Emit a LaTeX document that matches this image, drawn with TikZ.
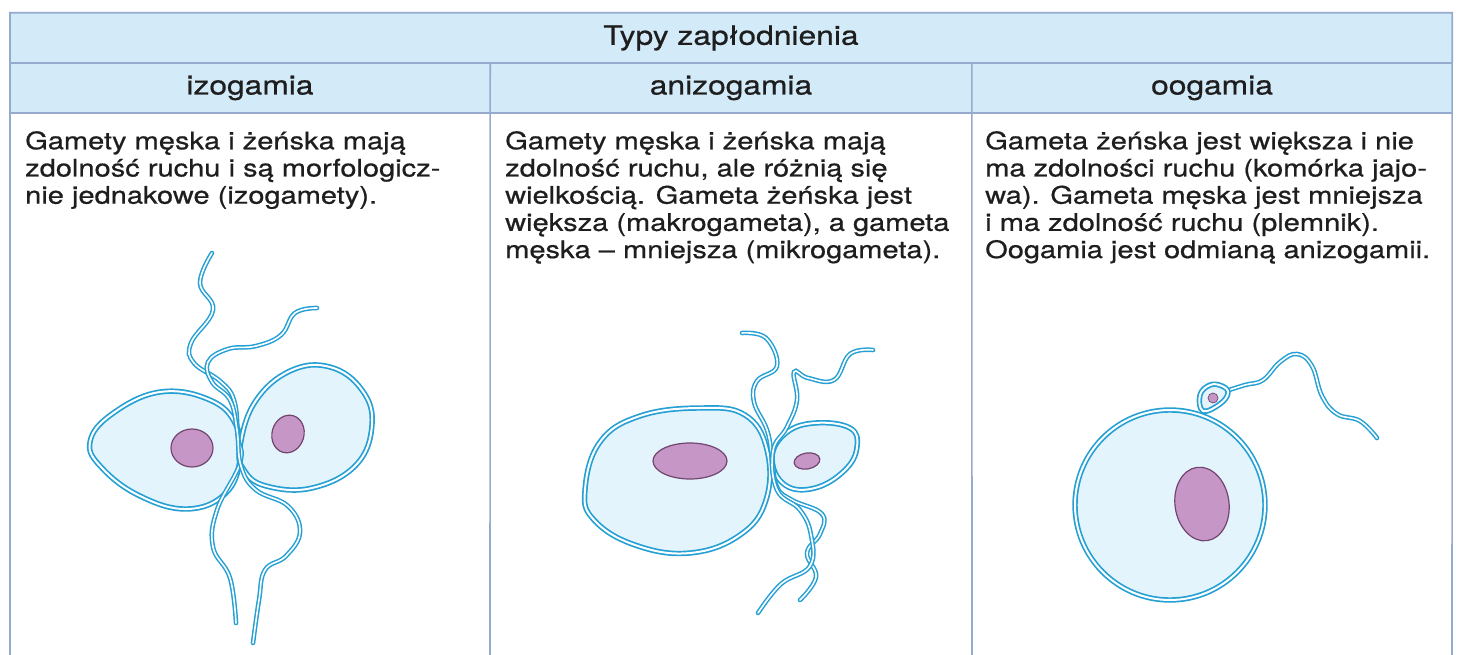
\documentclass[tikz,border=0pt]{standalone}
\usepackage{fontspec}
\setmainfont[FakeStretch=1.2, FakeBold=0.6]{TeX Gyre Heros}
\usepackage{tikz}
\usetikzlibrary{positioning}

\definecolor{headfill}{RGB}{211,234,249}
\definecolor{rulecol}{RGB}{150,170,205}
\definecolor{textcol}{RGB}{30,30,30}
\definecolor{cellblue}{RGB}{36,160,212}
\definecolor{cellfill}{RGB}{228,244,252}
\definecolor{nucfill}{RGB}{198,150,198}
\definecolor{nucline}{RGB}{112,70,112}

\tikzset {
    style title/.style={
        fill=headfill,
        text=textcol,
        rectangle, % Set the shape as a rectangle
        inner sep=0pt,
        minimum height=50pt,
        font=\fontsize{26.5}{30}\selectfont,
    },
    style head/.style={
        style title,
        minimum width=480pt,
    },
    style text/.style={
        text=textcol,
        anchor=north west,
        inner sep=0pt,
        align=left,
        font=\fontsize{24.2}{27.2}\selectfont,
    },
    style rule/.style={
        draw=rulecol,
        line width=1.6pt,
    },
    membrane/.style={
        draw=cellblue,
        double=white,
        double distance=2pt,
        line width=1.7pt,
        line join=round,
    },
    gamete/.style={
        membrane,
        fill=cellfill,
    },
    flagellum/.style={
        draw=cellblue,
        double=white,
        double distance=1.6pt,
        line width=1.5pt,
        line cap=round,
    },
    nucleus/.style={
        fill=nucfill,
        draw=nucline,
        line width=1.2pt,
    },
}

\begin{document}
\begin{tikzpicture}[x=1pt, y=-1pt]
    \useasboundingbox (0,0) rectangle (1457,655);

    % header rows
    \node[style title, minimum width=1442pt] (title) at (731,38) {Typy zapłodnienia};
    \node[style head] (izo) at (250,88) {izogamia};
    \node[style head, minimum width=482pt] (anizo) at (731,88) {anizogamia};
    \node[style head] (oo) at (1212,88) {oogamia};

    \draw[style rule] (10,655) |- (title.north east) -- (1452,655);
    \draw[style rule] (title.south west) -- (title.south east);
    \draw[style rule] (izo.south west) -- (oo.south east);
    \draw[style rule] (izo.north east) -- (490,655);
    \draw[style rule] (oo.north west) -- (972,655);

    % descriptions
    \node[style text] (izotext) at (25,131) {Gamety męska i żeńska mają\\
        zdolność ruchu i są morfologicz-\\
        nie jednakowe (izogamety).};
    \node[style text] (anizotext) at (505,131) {Gamety męska i żeńska mają\\
        zdolność ruchu, ale różnią się\\
        wielkością. Gameta żeńska jest\\
        większa (makrogameta), a gameta\\
        męska – mniejsza (mikrogameta).};
    \node[style text] (ootext) at (985,131) {Gameta żeńska jest większa i nie\\
        ma zdolności ruchu (komórka jajo-\\
        wa). Gameta męska jest mniejsza\\
        i ma zdolność ruchu (plemnik).\\
        Oogamia jest odmianą anizogamii.};

    % izogamia
    \draw[gamete] plot[smooth cycle, tension=0.7] coordinates {(90,442) (112,414) (160,392) (210,400) (236,425) (240,460) (225,494) (187,509) (140,496) (102,468)};
    \draw[gamete] plot[smooth cycle, tension=0.7] coordinates {(240,447) (255,402) (290,371) (330,367) (362,390) (372,425) (356,465) (312,488) (266,486) (244,470)};
    \draw[nucleus] (192,448) ellipse [x radius=21pt, y radius=19pt];
    \draw[nucleus] (288,434) ellipse [x radius=16pt, y radius=19pt, rotate=-15];
    \draw[flagellum] plot[smooth, tension=0.7] coordinates {(212,253) (200,283) (213,310) (191,343) (194,363) (220,381) (234,400) (238,437) (240,463) (217,510) (213,547) (230,578) (236,623)};
    \draw[flagellum] plot[smooth, tension=0.7] coordinates {(317,308) (295,313) (281,335) (256,346) (228,349) (208,362) (212,382) (230,400) (237,430) (241,466) (256,490) (288,506) (300,532) (286,556) (265,570) (259,600) (253,643)};

    % anizogamia
    \draw[gamete] plot[smooth cycle, tension=0.7] coordinates {(585,490) (600,442) (640,416) (700,408) (745,415) (767,450) (766,500) (740,535) (690,553) (635,545) (594,520)};
    \draw[gamete] plot[smooth cycle, tension=0.7] coordinates {(772,458) (786,433) (815,423) (850,428) (857,447) (845,470) (815,488) (785,485)};
    \draw[nucleus] (690,461) ellipse [x radius=37pt, y radius=18pt];
    \draw[nucleus] (807,461) ellipse [x radius=13pt, y radius=8pt, rotate=10];
    \draw[flagellum] plot[smooth, tension=0.7] coordinates {(742,333) (766,338) (777,366) (757,381) (754,402) (767,430) (772,457) (777,487) (792,500) (822,514) (820,534) (807,553) (816,577) (800,600)};
    \draw[flagellum] plot[smooth, tension=0.7] coordinates {(873,350) (850,354) (834,380) (808,378) (794,372) (797,400) (787,427) (773,451) (777,490) (800,510) (811,535) (810,566) (781,584) (758,613)};

    % oogamia
    \draw[gamete] (1170,505) circle [radius=95pt];
    \draw[nucleus] (1202,504) ellipse [x radius=27pt, y radius=37pt, rotate=8];
    \draw[flagellum] plot[smooth, tension=0.7] coordinates {(1226,391) (1245,385) (1263,380) (1280,362) (1297,354) (1312,366) (1322,396) (1337,414) (1360,421) (1377,438)};
    \draw[gamete] plot[smooth cycle, tension=0.7] coordinates {(1203,411) (1200,395) (1210,385) (1222,386) (1228,393) (1220,404)};
    \draw[nucleus, line width=0.7pt] (1213,398) circle [radius=5pt];
\end{tikzpicture}
\end{document}
